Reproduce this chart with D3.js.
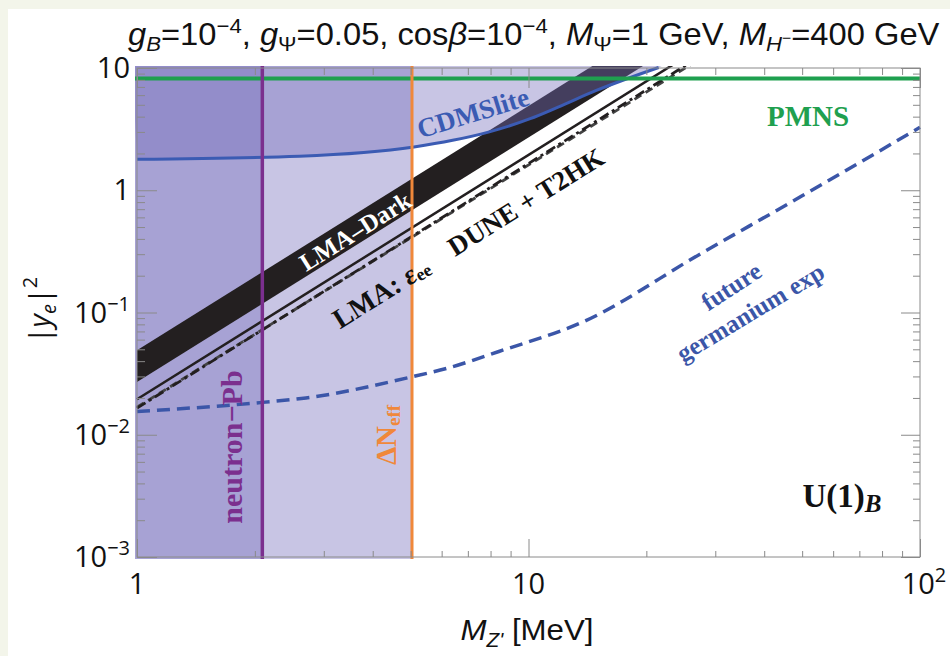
<!DOCTYPE html>
<html>
<head>
<meta charset="utf-8">
<script src="https://cdn.jsdelivr.net/npm/d3@7"></script>
<style>
body{margin:0;background:#f3f5ea;}
svg{display:block;}
</style>
</head>
<body>
<div id="chart"></div>
<script>
var svgWidth = 950, svgHeight = 656;
var plot = {left: 137, right: 920, top: 68, bottom: 557};

// axis ticks / labels
var xMajor = [1, 10, 100];
var xLabels = [["1", ""], ["10", ""], ["10", "2"]];
var yMajor = [1e-3, 1e-2, 1e-1, 1, 10];
var yLabels = [["10", "\u22123"], ["10", "\u22122"], ["10", "\u22121"], ["1", ""], ["10", ""]];

// CDMSlite bound
var cdmsM = [1, 2.6, 5.1, 6.4, 7.9, 10.1, 11.9, 14.9, 21.5];
var cdmsY = [1.79, 1.9, 2.26, 2.56, 2.99, 3.85, 4.79, 6.55, 10.1];

// future germanium experiment
var geM = [1, 2.09, 2.7, 5.0, 6.2, 8.4, 13.8, 27.4, 50, 100];
var geY = [0.0155, 0.0184, 0.020, 0.0296, 0.035, 0.048, 0.084, 0.30, 0.90, 3.27];

// LMA-Dark band and LMA / DUNE+T2HK lines (straight in log-log)
var lmaM = [1, 30];
var lmaDarkLow = [0.027, 24.3];
var lmaDarkHigh = [0.049, 44.1];
var lmaEe = [0.0195, 17.5];
var duneY = [0.0165, 14.9];
var t2hkY = [0.0168, 14.2];

// PMNS, neutron-Pb, Delta Neff
var pmnsY = 8.2;
var neutronPbM = 2.09;
var dNeffM = 5.04;

var svg = d3.select("#chart").append("svg")
    .attr("width", svgWidth)
    .attr("height", svgHeight);

svg.append("rect").attr("x", 8).attr("y", 9)
    .attr("width", svgWidth - 8).attr("height", svgHeight - 9)
    .attr("fill", "#ffffff");

var x = d3.scaleLog().domain([1, 100]).range([plot.left, plot.right]);
var y = d3.scaleLog().domain([1e-3, 10]).range([plot.bottom, plot.top]);

svg.append("clipPath").attr("id", "clip")
  .append("rect")
    .attr("x", plot.left - 2).attr("y", plot.top - 2)
    .attr("width", plot.right - plot.left + 3)
    .attr("height", plot.bottom - plot.top + 4);

var g = svg.append("g").attr("clip-path", "url(#clip)");

var shade = "rgb(117,110,187)";
var shadeOp = 0.4;

// neutron-Pb and Delta Neff excluded regions
[neutronPbM, dNeffM].forEach(function(m){
    g.append("rect")
      .attr("x", plot.left - 2).attr("y", plot.top - 2)
      .attr("width", x(m) - plot.left + 2)
      .attr("height", plot.bottom - plot.top + 4)
      .attr("fill", shade).attr("fill-opacity", shadeOp);
});

var line = d3.line().x(d => x(d[0])).y(d => y(d[1]));

// future germanium dashed
g.append("path")
    .attr("d", line.curve(d3.curveMonotoneX)(geM.map((m, i) => [m, geY[i]])))
    .attr("fill", "none").attr("stroke", "#3b56a8")
    .attr("stroke-width", 3.5).attr("stroke-dasharray", "13,7");

line.curve(d3.curveLinear);

// LMA-Dark band
var band = lmaM.map((m, i) => [m, lmaDarkLow[i]])
    .concat(lmaM.map((m, i) => [m, lmaDarkHigh[i]]).reverse());
g.append("path").attr("d", line(band) + "Z").attr("fill", "#231f20");

g.append("path").attr("d", line(lmaM.map((m, i) => [m, lmaEe[i]])))
    .attr("fill", "none").attr("stroke", "#231f20").attr("stroke-width", 2.5);
g.append("path").attr("d", line(lmaM.map((m, i) => [m, t2hkY[i]])))
    .attr("fill", "none").attr("stroke", "#444").attr("stroke-width", 2.8)
    .attr("stroke-dasharray", "8,5");
g.append("path").attr("d", line(lmaM.map((m, i) => [m, duneY[i]])))
    .attr("fill", "none").attr("stroke", "#231f20").attr("stroke-width", 2.8)
    .attr("stroke-dasharray", "10,4,3,4");

// CDMSlite excluded region
var cdmsPts = cdmsM.map((m, i) => [x(m), y(cdmsY[i])]);
var cdmsLine = d3.line().curve(d3.curveMonotoneX);
var last = cdmsPts[cdmsPts.length - 1];
g.append("path")
    .attr("d", cdmsLine(cdmsPts) + "L" + (last[0] + 20) + "," + (plot.top - 10) +
        "L" + (plot.left - 5) + "," + (plot.top - 10) + "Z")
    .attr("fill", shade).attr("fill-opacity", shadeOp);
g.append("path").attr("d", cdmsLine(cdmsPts))
    .attr("fill", "none").attr("stroke", "#3b5bb3").attr("stroke-width", 3);

// PMNS
g.append("line")
    .attr("x1", plot.left - 2).attr("x2", plot.right + 2)
    .attr("y1", y(pmnsY)).attr("y2", y(pmnsY))
    .attr("stroke", "#1fa04f").attr("stroke-width", 4);

// vertical bounds
g.append("line").attr("x1", x(neutronPbM)).attr("x2", x(neutronPbM))
    .attr("y1", plot.top - 2).attr("y2", plot.bottom + 2)
    .attr("stroke", "#7b2f8e").attr("stroke-width", 3.5);
g.append("line").attr("x1", x(dNeffM)).attr("x2", x(dNeffM))
    .attr("y1", plot.top - 2).attr("y2", plot.bottom + 2)
    .attr("stroke", "#f0883a").attr("stroke-width", 3);

// frame and ticks
var xMinor = x.ticks().filter(v => xMajor.indexOf(v) < 0);
var yMinor = y.ticks().filter(v => yMajor.map(String).indexOf(String(v)) < 0);

function drawAxis(axisFn, scale, vals, size, tr){
    var ax = svg.append("g").attr("transform", tr)
        .call(axisFn(scale).tickValues(vals).tickSize(size).tickFormat(""));
    ax.select(".domain").remove();
    ax.selectAll("line").attr("stroke", "#8a8a8a");
}
var bT = "translate(0," + plot.bottom + ")", tT = "translate(0," + plot.top + ")";
var lT = "translate(" + plot.left + ",0)", rT = "translate(" + plot.right + ",0)";
drawAxis(d3.axisBottom, x, xMajor, -18, bT);
drawAxis(d3.axisBottom, x, xMinor, -6, bT);
drawAxis(d3.axisTop, x, xMajor, -20, tT);
drawAxis(d3.axisTop, x, xMinor, -7, tT);
drawAxis(d3.axisLeft, y, yMajor, -20, lT);
drawAxis(d3.axisLeft, y, yMinor, -8, lT);
drawAxis(d3.axisRight, y, yMajor, -19, rT);
drawAxis(d3.axisRight, y, yMinor, -7, rT);

svg.append("rect")
    .attr("x", plot.left).attr("y", plot.top)
    .attr("width", plot.right - plot.left).attr("height", plot.bottom - plot.top)
    .attr("fill", "none").attr("stroke", "#8a8a8a").attr("stroke-width", 1);

// tick labels
var tickFont = "'Open Sans', 'DejaVu Sans', sans-serif";
yMajor.forEach(function(v, i){
    var t = svg.append("text").attr("x", 130).attr("y", y(v) + 10)
        .attr("text-anchor", "end").attr("font-family", tickFont)
        .attr("font-size", 29).attr("fill", "#111");
    t.append("tspan").text(yLabels[i][0]);
    if (yLabels[i][1]) t.append("tspan").attr("dy", -12).attr("font-size", 20).text(yLabels[i][1]);
});
xMajor.forEach(function(v, i){
    var t = svg.append("text").attr("x", x(v) + (xLabels[i][1] ? 4 : 0)).attr("y", 594)
        .attr("text-anchor", "middle").attr("font-family", tickFont)
        .attr("font-size", 29).attr("fill", "#111");
    t.append("tspan").text(xLabels[i][0]);
    if (xLabels[i][1]) t.append("tspan").attr("dy", -12).attr("font-size", 20).text(xLabels[i][1]);
});

// rich text helper: parts with baseline shift
function rich(sel, parts, base){
    var cur = 0;
    parts.forEach(function(p){
        var sh = p.sh || 0;
        sel.append("tspan").attr("dy", sh - cur)
            .attr("font-size", p.s || base)
            .attr("font-style", p.it ? "italic" : null)
            .text(p.t);
        cur = sh;
    });
}
function fitText(parts, size, font, x0, base, width, anchorMid){
    var grp = svg.append("g");
    var t = grp.append("text").attr("font-family", font).attr("font-size", size).attr("fill", "#111");
    rich(t, parts, size);
    var bb = t.node().getBBox();
    var k = width / bb.width;
    var left = anchorMid ? x0 - width / 2 : x0;
    grp.attr("transform", "translate(" + (left - bb.x * k) + "," + base + ") scale(" + k + ",1)");
}

var narrow = "'Liberation Sans Narrow', 'Arial Narrow', 'Liberation Sans', sans-serif";
fitText([
    {t: "g", it: 1}, {t: "B", it: 1, s: 21, sh: 6}, {t: "=10"}, {t: "\u22124", s: 21, sh: -12},
    {t: ", "}, {t: "g", it: 1}, {t: "\u03a8", s: 21, sh: 6}, {t: "=0.05, cos"}, {t: "\u03b2", it: 1},
    {t: "=10"}, {t: "\u22124", s: 21, sh: -12}, {t: ", "}, {t: "M", it: 1}, {t: "\u03a8", s: 21, sh: 6},
    {t: "=1 GeV, "}, {t: "M", it: 1}, {t: "H", it: 1, s: 21, sh: 6}, {t: "\u2212", s: 15, sh: -2},
    {t: "=400 GeV", sh: 0}
], 31, narrow, 128, 45, 812, false);

fitText([{t: "M", it: 1}, {t: "Z'", it: 1, s: 20, sh: 7}, {t: " [MeV]"}],
    30, narrow, 527, 640, 133, true);

// y axis label
var yl = svg.append("text").attr("transform", "translate(50,310) rotate(-90)")
    .attr("text-anchor", "middle").attr("font-family", tickFont)
    .attr("font-size", 29).attr("fill", "#111");
rich(yl, [{t: "|"}, {t: "y", it: 1}, {t: "e", it: 1, s: 20, sh: 6}, {t: "|"}, {t: "2", s: 20, sh: -13}], 29);

// plot labels
var serif = "'Liberation Serif', 'Times New Roman', serif";
function label(parts, cx, cy, ang, size, color){
    var t = svg.append("text")
        .attr("transform", "translate(" + cx + "," + cy + ") rotate(" + ang + ")")
        .attr("text-anchor", "middle").attr("dominant-baseline", "central")
        .attr("font-family", serif).attr("font-weight", "bold")
        .attr("font-size", size).attr("fill", color);
    rich(t, parts, size);
}
label([{t: "LMA\u2013Dark"}], 355, 231, -32, 25, "#ffffff");
label([{t: "LMA: "}, {t: "\u03b5", it: 1}, {t: "ee", s: 18, sh: 6}], 381, 292, -32, 28, "#111");
label([{t: "DUNE + T2HK"}], 526, 202, -32, 27, "#111");
label([{t: "CDMSlite"}], 473, 113, -17, 27, "#3b5bb3");
label([{t: "PMNS"}], 808, 116, 0, 29, "#1fa04f");
label([{t: "future"}], 731, 286, -33, 25, "#3b56a8");
label([{t: "germanium exp"}], 750, 312, -31, 25, "#3b56a8");
label([{t: "neutron\u2212Pb"}], 231, 447, -90, 30, "#7b2f8e");
label([{t: "\u0394N"}, {t: "eff", s: 19, sh: 7}], 386, 435, -90, 29, "#f0883a");
label([{t: "U(1)"}, {t: "B", it: 1, s: 25, sh: 7}], 842, 496, 0, 33, "#111");
</script>
</body>
</html>
